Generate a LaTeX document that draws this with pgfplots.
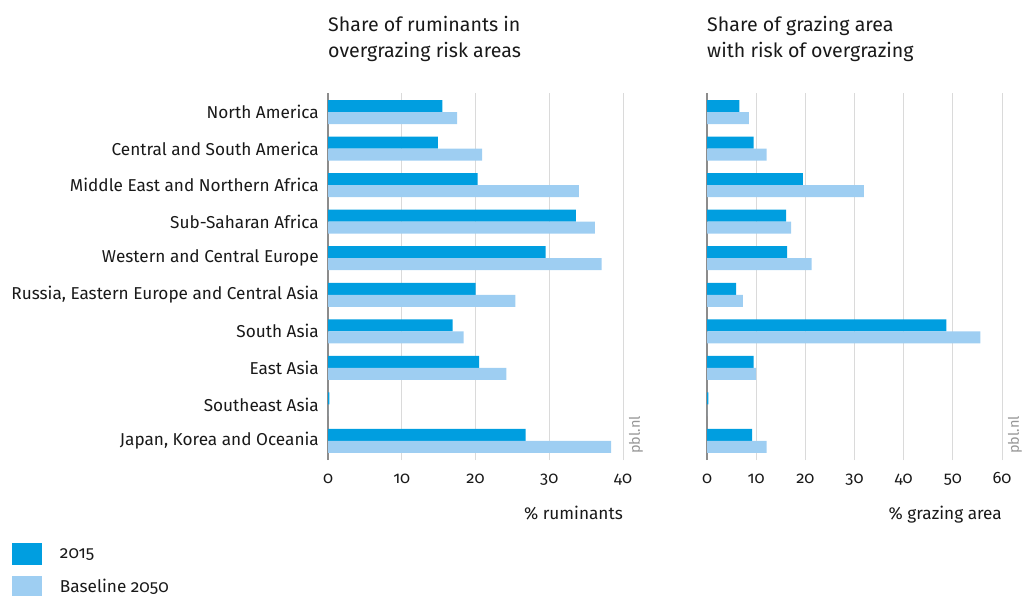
\documentclass[border=0pt]{standalone}
\usepackage{pgfplots}
\pgfplotsset{compat=1.18}
\usepackage{fontspec}
\setmainfont{Fira Sans}[Numbers=OldStyle]
\definecolor{cA}{RGB}{0,158,224}
\definecolor{cB}{RGB}{158,206,242}
\definecolor{gridc}{RGB}{218,218,218}
\definecolor{axc}{RGB}{140,140,140}
\definecolor{txt}{RGB}{25,25,25}
\definecolor{pblc}{RGB}{150,150,150}
\newcommand{\lab}{\fontsize{17.2}{20}\selectfont}
\newcommand{\tck}{\fontsize{16.5}{19}\selectfont}
\newcommand{\ttl}{\fontsize{19.6}{23}\selectfont}
\pgfplotsset{
  common/.style={
    xbar, scale only axis, width=295pt, height=367pt,
    anchor=south west,
    bar width=12pt,
    ymin=-0.52, ymax=9.52, ytick={0,...,9},
    xmin=0,
    axis line style={draw=none},
    major tick length=0pt,
    xmajorgrids, grid style={gridc, line width=1pt},
    extra x ticks={0}, extra x tick labels={},
    extra x tick style={grid style={axc, line width=1.2pt}},
    /pgf/number format/assume math mode=true,
    tick label style={font=\lab, text=txt},
    xticklabel style={font=\tck, inner sep=0pt, anchor=base, yshift=-23pt},
    yticklabel style={inner sep=0pt, anchor=east, xshift=-9pt},
    xlabel style={font=\lab, text=txt, at={(rel axis cs:1,0)}, anchor=base east, yshift=-59pt, inner sep=0pt},
    clip=false,
  }
}
\begin{document}
\begin{tikzpicture}[x=1pt,y=1pt]
\useasboundingbox (0,0) rectangle (1024,595);
\clip (0,0) rectangle (1024,595);
\begin{axis}[common, at={(328pt,135pt)},
  xmax=40, xtick={0,10,20,30,40},
  yticklabels={Japan{,} Korea and Oceania, Southeast Asia, East Asia, South Asia, {Russia, Eastern Europe and Central Asia}, Western and Central Europe, Sub-Saharan Africa, Middle East and Northern Africa, Central and South America, North America},
  xlabel={\% ruminants},
  legend style={at={(-1.0712,-0.2262)}, anchor=north west, draw=none, fill=none, inner sep=0pt, outer sep=0pt,
    row sep=11pt, font=\lab, text=txt, cells={anchor=west},
    /tikz/every odd column/.append style={column sep=16pt}},
  legend cell align=left,
  legend image code/.code={\fill[#1] (0pt,-11pt) rectangle (30pt,11pt);},
]
\addplot[fill=cA, draw=none, bar shift=6pt] coordinates {
 (15.5,9) (14.9,8) (20.3,7) (33.6,6) (29.5,5) (20.0,4) (16.9,3) (20.5,2) (0.2,1) (26.8,0)};
\addplot[fill=cB, draw=none, bar shift=-6pt] coordinates {
 (17.5,9) (20.9,8) (34.0,7) (36.2,6) (37.1,5) (25.4,4) (18.4,3) (24.2,2) (0,1) (38.4,0)};
\legend{2015, Baseline 2050}
\node[font=\ttl, text=txt, anchor=base west, inner sep=0pt] at (rel axis cs:0,1) [yshift=61.3pt] {Share of ruminants in};
\node[font=\ttl, text=txt, anchor=base west, inner sep=0pt] at (rel axis cs:0,1) [yshift=35pt] {overgrazing risk areas};
\node[font=\fontsize{14.5}{16}\selectfont, text=pblc, rotate=90, anchor=west, inner sep=0pt] at (rel axis cs:1,0) [xshift=6pt, yshift=-13pt] {pbl.nl};
\end{axis}
\begin{axis}[common, at={(707pt,135pt)},
  xmax=60, xtick={0,10,20,30,40,50,60},
  yticklabels={},
  xlabel={\% grazing area},
]
\addplot[fill=cA, draw=none, bar shift=6pt] coordinates {
 (6.6,9) (9.5,8) (19.5,7) (16.1,6) (16.3,5) (5.9,4) (48.7,3) (9.5,2) (0.3,1) (9.2,0)};
\addplot[fill=cB, draw=none, bar shift=-6pt] coordinates {
 (8.5,9) (12.1,8) (31.9,7) (17.1,6) (21.3,5) (7.3,4) (55.6,3) (10.0,2) (0,1) (12.1,0)};
\node[font=\ttl, text=txt, anchor=base west, inner sep=0pt] at (rel axis cs:0,1) [yshift=61.3pt] {Share of grazing area};
\node[font=\ttl, text=txt, anchor=base west, inner sep=0pt] at (rel axis cs:0,1) [yshift=35pt] {with risk of overgrazing};
\node[font=\fontsize{14.5}{16}\selectfont, text=pblc, rotate=90, anchor=west, inner sep=0pt] at (rel axis cs:1,0) [xshift=6pt, yshift=-13pt] {pbl.nl};
\end{axis}
\end{tikzpicture}
\end{document}
